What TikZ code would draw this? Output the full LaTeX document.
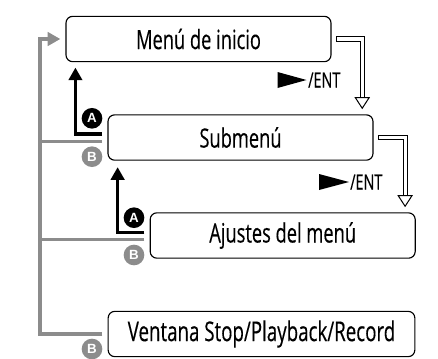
\documentclass[tikz,border=0pt]{standalone}
\usepackage{fontspec}
\setmainfont[FakeStretch=0.685,FakeBold=0.25]{Open Sans}
\newfontfamily\badgefont{Liberation Sans}
\usetikzlibrary{arrows.meta,calc}
\definecolor{railgray}{RGB}{140,140,140}
\tikzset{
  menubox/.style={draw,line width=0.85pt,rounded corners=5pt,inner sep=0pt,minimum height=34pt,font=\fontsize{20}{24}\selectfont},
  blackline/.style={line width=2.7pt,black,-{Triangle[length=9.5pt,width=10pt]}},
  rail/.style={line width=2.7pt,railgray},
  nextline/.style={double,double distance=2.4pt,line width=0.75pt,-{Triangle[open,fill=white,length=9pt,width=11.5pt,line width=0.75pt]}},
  nextend/.style={line width=0.75pt},
  badge/.style={circle,inner sep=0pt,minimum size=15.5pt,text=white,font=\badgefont\bfseries\fontsize{10}{10}\selectfont},
  entlabel/.style={inner sep=0pt,anchor=west,font=\fontsize{15.75}{18}\selectfont}
}
\begin{document}
\begin{tikzpicture}[x=0.75pt,y=0.75pt,yscale=-1,xscale=1]
\useasboundingbox (0,0) rectangle (438,358);

% boxes
\node [menubox,minimum width=198.75pt] (menu) at (198.5,39) {Menú de inicio};
\node [menubox,minimum width=198.75pt] (submenu) at (240.5,137.5) {Submenú};
\node [menubox,minimum width=198.75pt] (ajustes) at (282.7,235.5) {Ajustes del menú};
\node [menubox,minimum width=230pt,font=\fontsize{20.5}{24}\selectfont] (ventana) at (261.5,334) {Ventana Stop/Playback/Record};

% gray return lines
\coordinate (railtop) at (40,39);
\coordinate (subgap) at ([xshift=-4pt,yshift=3pt]submenu.west);
\coordinate (ajugap) at ([xshift=-4pt,yshift=3pt]ajustes.west);
\draw [rail,-{Triangle[length=9.5pt,width=10pt]}] ([xshift=-4pt]ventana.west) -| (railtop) -- ([xshift=-3.8pt]menu.west);
\draw [rail] (subgap) -- (subgap -| railtop);
\draw [rail] (ajugap) -- (ajugap -| railtop);

% black back arrows
\draw [blackline] ([xshift=-4pt,yshift=-2.6pt]submenu.west) -| ([xshift=-24pt,yshift=4pt]menu.south -| submenu.west);
\draw [blackline] ([xshift=-4pt,yshift=-2.4pt]ajustes.west) -| ([xshift=-24pt,yshift=4.8pt]submenu.south -| ajustes.west);

% next arrows
\draw [nextline] ([xshift=3.5pt]menu.east) -| ([xshift=-8.5pt,yshift=-3.8pt]submenu.north east);
\draw [nextline] ([xshift=3.5pt]submenu.east) -| ([xshift=-8pt,yshift=-3.8pt]ajustes.north east);
\draw [nextend] ([xshift=3.5pt,yshift=-1.95pt]menu.east) -- ([xshift=3.5pt,yshift=1.95pt]menu.east);
\draw [nextend] ([xshift=3.5pt,yshift=-1.95pt]submenu.east) -- ([xshift=3.5pt,yshift=1.95pt]submenu.east);

% play labels
\node [entlabel] (ent1) at (308,80) {/ENT};
\node [entlabel] (ent2) at (350,182) {/ENT};
\fill (ent1.west) ++(-30.5,-8) -- ++(29,8) -- ++(-29,8) -- cycle;
\fill (ent2.west) ++(-31,-8) -- ++(30,8) -- ++(-30,8) -- cycle;

% badges
\node [badge,fill=black] (a1) at (92,118.3) {A};
\node [badge,fill=railgray] (b1) at (92,156.7) {B};
\node [badge,fill=black] (a2) at (134,217.7) {A};
\node [badge,fill=railgray] (b2) at (134,255) {B};
\node [badge,fill=railgray] (b3) at (92,349) {B};
\end{tikzpicture}
\end{document}
